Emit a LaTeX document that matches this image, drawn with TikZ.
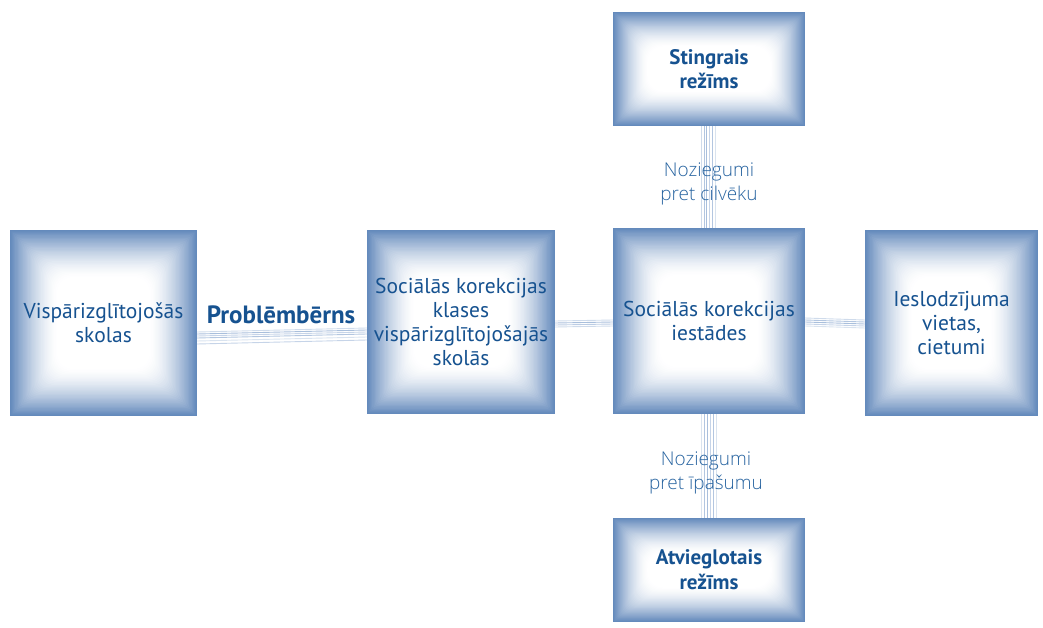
\documentclass[tikz,border=0pt]{standalone}
\usepackage{fontspec}
\setmainfont{PT Sans}
\newfontfamily\lightfont{Open Sans Light}
\usetikzlibrary{calc}

\definecolor{edgeblue}{RGB}{100,138,188}
\definecolor{inkblue}{RGB}{22,82,144}
\definecolor{labelblue}{RGB}{40,100,160}
\definecolor{streak}{RGB}{160,184,216}

\def\fadestep{1.3}
\tikzset{
  fade step/.store in=\fadestep,
  softbox/.style={
    inner sep=0pt, align=center, text=inkblue,
    font=\fontsize{21.5}{24}\selectfont,
    path picture={
      \foreach \k in {0,...,36}{
        \pgfmathsetmacro\pc{100*(1-\k/36)^1.5}
        \fill[edgeblue!\pc!white, rounded corners=\k*0.45pt]
          ($(path picture bounding box.south west)+(\k*\fadestep pt,\k*\fadestep pt)$)
          rectangle
          ($(path picture bounding box.north east)-(\k*\fadestep pt,\k*\fadestep pt)$);
      }
    }
  },
  boldbox/.style={softbox, fade step=0.95, font=\fontsize{21}{24}\selectfont\bfseries},
  streakline/.style={draw=streak, line width=0.9pt},
  crimelabel/.style={text=labelblue, align=center,
    font=\lightfont\fontsize{19}{24}\selectfont, inner sep=1pt},
  tag/.style={text=inkblue, font=\fontsize{25}{24}\selectfont\bfseries}
}

\begin{document}
\begin{tikzpicture}[x=1pt,y=-1pt]
  \useasboundingbox (0,0) rectangle (1043,628);

  % boxes
  \node[softbox, minimum width=187pt, minimum height=186pt] (schools) at (103.5,323)
    {Vispārizglītojošās\\skolas};
  \node[softbox, minimum width=188pt, minimum height=184pt] (classes) at (461,322)
    {Sociālās korekcijas\\klases\\vispārizglītojošajās\\skolās};
  \node[softbox, minimum width=192pt, minimum height=186pt] (inst) at (709,321)
    {\raisebox{-3pt}{\shortstack{Sociālās korekcijas\\[1pt]iestādes}}};
  \node[boldbox, minimum width=192pt, minimum height=114pt] (strict) at (709,69)
    {Stingrais\\režīms};
  \node[boldbox, minimum width=192pt, minimum height=104pt] (mild) at (709,570)
    {\raisebox{-8pt}{\shortstack{Atvieglotais\\[2pt]režīms}}};
  \node[softbox, minimum width=173pt, minimum height=186pt] (prison) at (951.5,323)
    {Ieslodzījuma\\vietas,\\cietumi};

  % horizontal streaks
  \foreach \d/\o in {-9/0.5,-11/0.9,-13/0.6,-15/0.8,-18/0.4,-21/0.6}
    \draw[streakline, opacity=\o] ([yshift=\d pt]schools.east) -- ([yshift=\d pt+3pt]classes.west);
  \foreach \d/\o in {1/0.5,-1/0.9,-3/0.7,-5/0.5}
    \draw[streakline, opacity=\o] ([yshift=\d pt]classes.east) -- ([yshift=\d pt]inst.west);
  \foreach \d/\o in {3/0.5,1/0.8,-1/0.9,-3/0.6,-5/0.4}
    \draw[streakline, opacity=\o] ([yshift=\d pt]inst.east) -- ([yshift=\d pt]prison.west);

  % vertical streaks
  \foreach \d/\o in {-8/0.5,-5/0.8,-3/0.9,0/0.6,3/0.8,6/0.4}
    \draw[streakline, opacity=\o] ([xshift=\d pt]strict.south) -- ([xshift=\d pt]inst.north);
  \foreach \d/\o in {-8/0.4,-5/0.8,-2/0.9,1/0.6,4/0.8,7/0.4}
    \draw[streakline, opacity=\o] ([xshift=\d pt]inst.south) -- ([xshift=\d pt]mild.north);

  % labels
  \node[tag] (problem) at (281,315) {Problēmbērns};
  \node[crimelabel] (persons) at (709,184) {Noziegumi\\pret cilvēku};
  \node[crimelabel] (property) at (706,473) {Noziegumi\\pret īpašumu};
\end{tikzpicture}
\end{document}
